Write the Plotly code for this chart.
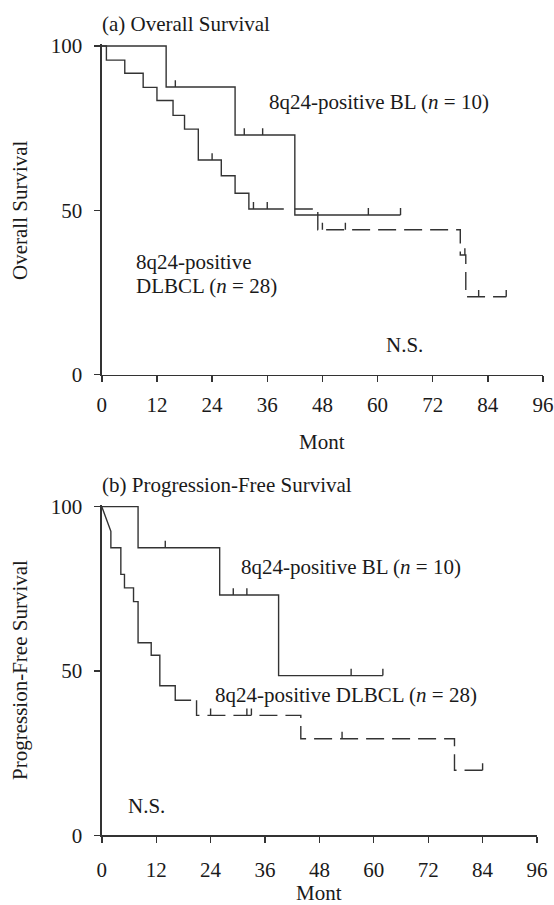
import plotly.graph_objects as go

# ---------------- data ----------------
month_ticks = [0, 12, 24, 36, 48, 60, 72, 84, 96]
month_tick_labels = ["0", "12", "24", "36", "48", "60", "72", "84", "96"]
surv_ticks = [0, 50, 100]
surv_tick_labels = ["0", "50", "100"]

# (a) Overall survival: event times / survival after each event
os_bl_times = [0, 14, 29, 42]
os_bl_surv = [100, 87.5, 72.9, 48.6]
os_bl_end = 65
os_bl_censor = [16, 31, 35, 58, 65]

os_dlbcl_times = [0, 1, 5, 9, 12, 15.5, 18, 21, 26, 29, 32, 47, 78, 79.2]
os_dlbcl_surv = [100, 95.7, 91.7, 87.4, 83.4, 78.9, 74.7, 65.3, 60.5, 55.2, 50.4, 44.1, 36.4, 23.7]
os_dlbcl_end = 88
os_dlbcl_censor = [24, 33, 36, 48, 53, 79, 82, 88]

# (b) Progression-free survival
pfs_bl_times = [0, 8, 26, 39]
pfs_bl_surv = [100, 87.5, 73.1, 48.6]
pfs_bl_end = 62
pfs_bl_censor = [14, 29, 32, 55, 62]

pfs_dlbcl_start_slope = (2, 92.5)   # first segment is drawn as a slanted line
pfs_dlbcl_times = [0, 2, 4.2, 5, 7, 8, 10.9, 12.8, 16.2, 20.9, 43.9, 77.8]
pfs_dlbcl_surv = [100, 87.5, 79.4, 75.3, 71.1, 58.6, 54.8, 45.5, 41.1, 36.5, 29.4, 19.8]
pfs_dlbcl_end = 84
pfs_dlbcl_censor = [24, 32, 33, 53, 84]

# ---------------- styles ----------------
W, H = 554, 905
LINE = "#333333"
TXT = "#1a1a1a"
FONT = "Liberation Serif"
FS = 21
LW = 1.4
DASH = "18px,8px"
CENSOR_H = 2.1
# where the DLBCL curves switch from solid to dashed (months)
OS_SOLID_END, OS_DASH_START = 39.6, 42.0
PFS_SOLID_END, PFS_DASH_START = 19.7, 20.9


def step_vertices(times, survs, end, slope=None):
    xs, ys = [times[0]], [survs[0]]
    for i, (t, s) in enumerate(zip(times[1:], survs[1:])):
        if i == 0 and slope is not None:
            xs.append(slope[0]); ys.append(slope[1])
        xs += [t, t]
        ys += [ys[-1], s]
    xs.append(end); ys.append(ys[-1])
    return xs, ys


def clip_path(xs, ys, a, b):
    out = []
    for i in range(len(xs) - 1):
        x0, y0, x1, y1 = xs[i], ys[i], xs[i + 1], ys[i + 1]
        if x1 < a or x0 > b:
            continue
        if x1 == x0:
            seg = [(x0, y0), (x1, y1)]
        else:
            sa, sb = max(x0, a), min(x1, b)
            f = lambda x: y0 + (y1 - y0) * (x - x0) / (x1 - x0)
            seg = [(sa, f(sa)), (sb, f(sb))]
        for p in seg:
            if not out or out[-1] != p:
                out.append(p)
    return [p[0] for p in out], [p[1] for p in out]


def level_at(times, survs, t):
    v = survs[0]
    for tt, s in zip(times, survs):
        if tt <= t:
            v = s
    return v


def censor_xy(times, survs, cens):
    xs, ys = [], []
    for c in cens:
        v = level_at(times, survs, c)
        xs += [c, c, None]
        ys += [v, v + CENSOR_H, None]
    return xs, ys


fig = go.Figure()


def add_line(xs, ys, xa, ya, dash="solid"):
    fig.add_trace(go.Scatter(x=xs, y=ys, mode="lines", xaxis=xa, yaxis=ya,
                             line=dict(color=LINE, width=LW, dash=dash),
                             hoverinfo="skip", showlegend=False))


# panel (a)
x, y = step_vertices(os_bl_times, os_bl_surv, os_bl_end)
add_line(x, y, "x", "y")
x, y = censor_xy(os_bl_times, os_bl_surv, os_bl_censor)
add_line(x, y, "x", "y")
x, y = step_vertices(os_dlbcl_times, os_dlbcl_surv, os_dlbcl_end)
xs1, ys1 = clip_path(x, y, 0, OS_SOLID_END)
add_line(xs1, ys1, "x", "y")
xs2, ys2 = clip_path(x, y, OS_DASH_START, os_dlbcl_end)
add_line(xs2, ys2, "x", "y", DASH)
x, y = censor_xy(os_dlbcl_times, os_dlbcl_surv, os_dlbcl_censor)
add_line(x, y, "x", "y")

# panel (b)
x, y = step_vertices(pfs_bl_times, pfs_bl_surv, pfs_bl_end)
add_line(x, y, "x2", "y2")
x, y = censor_xy(pfs_bl_times, pfs_bl_surv, pfs_bl_censor)
add_line(x, y, "x2", "y2")
x, y = step_vertices(pfs_dlbcl_times, pfs_dlbcl_surv, pfs_dlbcl_end, pfs_dlbcl_start_slope)
xs1, ys1 = clip_path(x, y, 0, PFS_SOLID_END)
add_line(xs1, ys1, "x2", "y2")
xs2, ys2 = clip_path(x, y, PFS_DASH_START, pfs_dlbcl_end)
add_line(xs2, ys2, "x2", "y2", DASH)
x, y = censor_xy(pfs_dlbcl_times, pfs_dlbcl_surv, pfs_dlbcl_censor)
add_line(x, y, "x2", "y2")


def xaxis_style(domain, anchor, standoff):
    return dict(domain=domain, anchor=anchor, range=[0, 96], tickvals=month_ticks,
                ticktext=month_tick_labels, showline=True, linecolor=LINE, linewidth=LW,
                ticks="outside", ticklen=6, tickwidth=LW, tickcolor=LINE,
                showgrid=False, zeroline=False, ticklabelstandoff=standoff,
                automargin=False,
                tickfont=dict(family=FONT, size=FS, color=TXT), fixedrange=True)


def yaxis_style(domain, anchor):
    return dict(domain=domain, anchor=anchor, range=[0, 100.6], tickvals=surv_ticks,
                ticktext=surv_tick_labels, showline=True, linecolor=LINE, linewidth=LW,
                ticks="outside", ticklen=6, tickwidth=LW, tickcolor=LINE,
                showgrid=False, zeroline=False, ticklabelstandoff=8,
                automargin=False,
                tickfont=dict(family=FONT, size=FS, color=TXT), fixedrange=True)


def PX(p):
    return p / W


def PY(p):
    return 1 - p / H


fig.update_layout(
    width=W, height=H, margin=dict(l=0, r=0, t=0, b=0),
    paper_bgcolor="white", plot_bgcolor="white",
    xaxis=xaxis_style([PX(101.8), PX(543)], "y", 5),
    yaxis=yaxis_style([PY(374.7), PY(44.0)], "x"),
    xaxis2=xaxis_style([PX(101.8), PX(537)], "y2", 9),
    yaxis2=yaxis_style([PY(835.3), PY(504.7)], "x2"),
    font=dict(family=FONT, size=FS, color=TXT),
)

ann = []


def text(t, x, y, xref="paper", yref="paper", xanchor="left", yanchor="middle", angle=0):
    ann.append(dict(text=t, x=x, y=y, xref=xref, yref=yref, xanchor=xanchor,
                    yanchor=yanchor, showarrow=False, textangle=angle,
                    font=dict(family=FONT, size=FS, color=TXT)))


# panel titles / axis titles
text("(a) Overall Survival", PX(100), PY(24))
text("(b) Progression-Free Survival", PX(100), PY(485))
text("Overall Survival", PX(20), PY(210), xanchor="center", angle=-90)
text("Progression-Free Survival", PX(20), PY(670), xanchor="center", angle=-90)
text("Mont", PX(322), PY(442), xanchor="center")
text("Mont", PX(319), PY(893), xanchor="center")

# in-plot labels (data coordinates)
text("8q24-positive BL (<i>n</i> = 10)", 36.0, 83.0, "x", "y")
text("8q24-positive", 7.1, 34.3, "x", "y")
text("DLBCL (<i>n</i> = 28)", 7.1, 27.0, "x", "y")
text("N.S.", 61.5, 9.0, "x", "y")
text("8q24-positive BL (<i>n</i> = 10)", 30.2, 81.7, "x2", "y2")
text("8q24-positive DLBCL (<i>n</i> = 28)", 24.5, 42.7, "x2", "y2")
text("N.S.", 5.3, 9.0, "x2", "y2")

fig.update_layout(annotations=ann)
fig.write_html(
    "out.html",
    config={"displayModeBar": False, "staticPlot": True},
    post_script="document.body.style.margin='0';document.body.style.overflow='hidden';",
)
